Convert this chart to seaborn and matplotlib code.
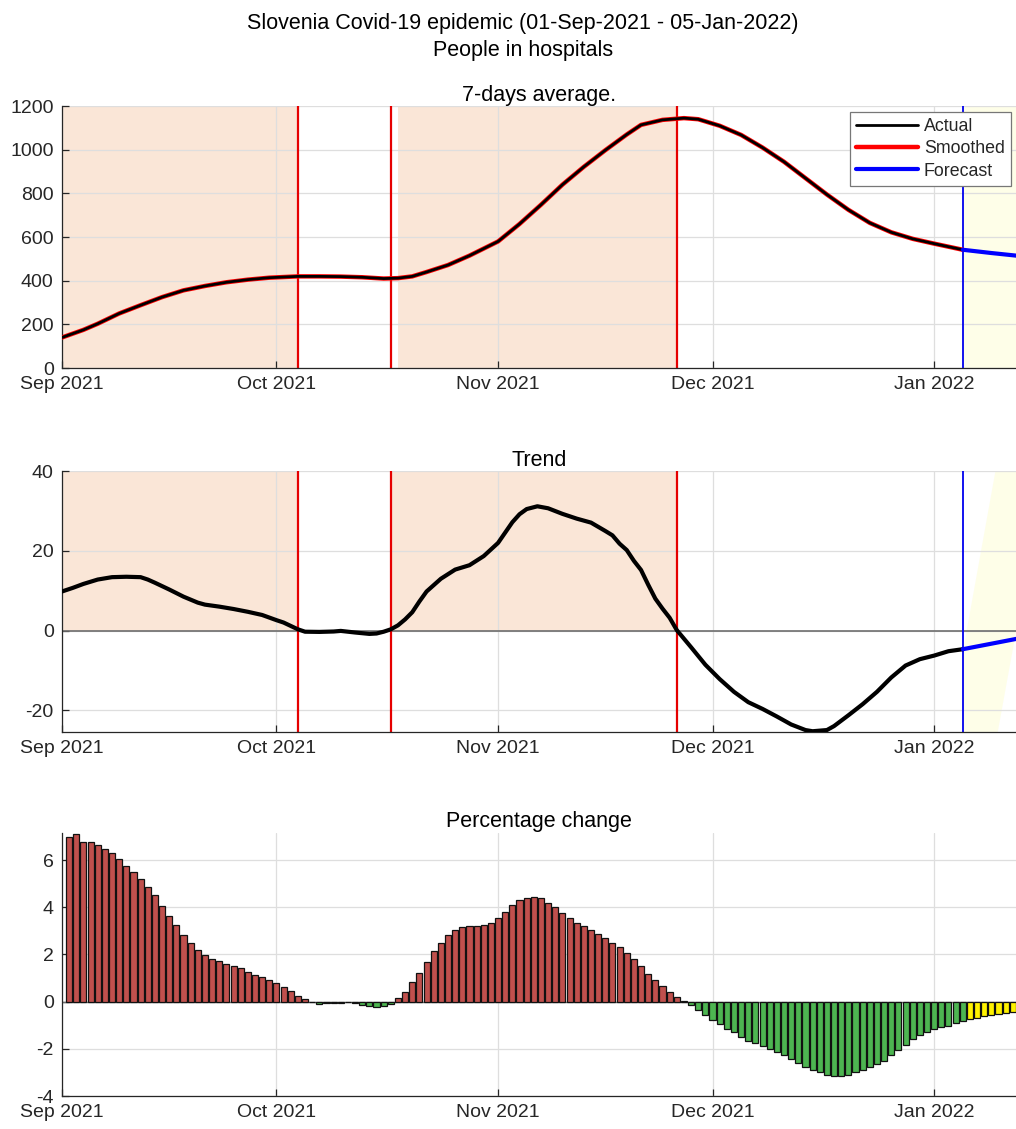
import matplotlib
matplotlib.use("Agg")
import matplotlib.dates as mdates
import matplotlib.pyplot as plt
import numpy as np
import pandas as pd
import seaborn as sns

start = pd.Timestamp("2021-09-01")

# --- data (day offsets counted from 01-Sep-2021) ---
# 7-days average of people in hospitals
hosp_days = [0, 3, 5, 8, 11, 14, 17, 20, 23, 26, 29, 33, 36, 39, 42, 45, 47, 49, 51, 54,
             57, 61, 64, 67, 70, 73, 76, 79, 81, 84, 87, 89, 92, 95, 98, 101, 104, 107,
             110, 113, 116, 119, 122, 126]
hosp_vals = [140, 175, 203, 250, 288, 325, 356, 376, 393, 405, 414, 420, 420, 419, 416,
             410, 412, 420, 440, 472, 515, 580, 660, 748, 840, 922, 998, 1070, 1114, 1137,
             1145, 1140, 1110, 1068, 1010, 945, 870, 795, 725, 665, 622, 592, 570, 542]
hosp_fc_days = [126, 130, 133.5]
hosp_fc_vals = [542, 527, 515]

# trend (daily change)
trend_days = [0, 1.5, 3, 5, 7, 9, 11, 12, 13, 15, 17, 19, 20, 22, 24, 26, 28, 30, 31, 33,
              34, 36, 38, 39, 41, 43, 44, 45, 46, 47, 48, 49, 50, 51, 53, 55, 57, 59, 61,
              62, 63, 64, 65, 66.5, 68, 70, 72, 74, 76, 77, 78, 79, 80, 81, 82, 83, 84, 85,
              86, 88, 90, 92, 94, 96, 98, 100, 102, 104, 105, 107, 108, 110, 112, 114, 116,
              118, 120, 122, 124, 126]
trend_vals = [9.8, 10.7, 11.7, 12.8, 13.4, 13.5, 13.4, 12.8, 12.0, 10.3, 8.5, 7.0, 6.5,
              6.0, 5.4, 4.7, 3.9, 2.6, 2.0, 0.3, -0.3, -0.35, -0.25, -0.1, -0.5, -0.85,
              -0.75, -0.3, 0.3, 1.3, 2.8, 4.6, 7.3, 9.8, 13.0, 15.3, 16.4, 18.7, 22.0, 24.6,
              27.2, 29.2, 30.5, 31.2, 30.7, 29.3, 28.1, 27.1, 25.0, 23.9, 21.8, 20.2, 17.5,
              15.2, 11.5, 8.0, 5.5, 3.2, 0.1, -4.2, -8.6, -12.2, -15.4, -18.0, -19.7, -21.6,
              -23.6, -25.0, -25.3, -25.0, -24.0, -21.3, -18.5, -15.4, -11.8, -8.8, -7.2,
              -6.3, -5.2, -4.7]
trend_fc_days = [126, 133.5]
trend_fc_vals = [-4.7, -2.1]
band_days = [126, 133.5]
band_low = [-73, 1]
band_high = [-4.7, 70]

# percentage change, days 1..126 actual, 127..133 forecast
pct_vals = [7.0, 7.1, 6.78, 6.78, 6.62, 6.47, 6.31, 6.06, 5.77, 5.49, 5.21, 4.87, 4.50,
            4.06, 3.65, 3.23, 2.83, 2.50, 2.21, 1.97, 1.80, 1.72, 1.59, 1.52, 1.43, 1.26,
            1.15, 1.04, 0.91, 0.78, 0.61, 0.44, 0.25, 0.10, -0.03, -0.10, -0.07, -0.07,
            -0.07, -0.03, -0.05, -0.14, -0.17, -0.23, -0.18, -0.11, 0.14, 0.41, 0.82,
            1.23, 1.67, 2.13, 2.48, 2.82, 3.02, 3.15, 3.19, 3.19, 3.23, 3.35, 3.56, 3.80,
            4.09, 4.30, 4.41, 4.45, 4.38, 4.20, 4.01, 3.74, 3.55, 3.35, 3.19, 3.02, 2.87,
            2.70, 2.48, 2.30, 2.06, 1.80, 1.52, 1.19, 0.91, 0.65, 0.40, 0.21, 0.01, -0.15,
            -0.37, -0.57, -0.78, -0.96, -1.15, -1.30, -1.48, -1.66, -1.77, -1.89, -2.00,
            -2.13, -2.28, -2.44, -2.60, -2.75, -2.91, -2.98, -3.11, -3.15, -3.15, -3.11,
            -2.99, -2.91, -2.77, -2.65, -2.50, -2.27, -2.06, -1.82, -1.59, -1.42, -1.28,
            -1.16, -1.09, -1.02, -0.92, -0.84]
pct_fc_vals = [-0.75, -0.70, -0.62, -0.57, -0.52, -0.47, -0.44]

red_lines = [33, 46, 86]
forecast_start = 126
shade_top = [(0, 33), (47, 86)]
shade_mid = [(0, 33), (46, 86)]
x_end = 133.45


def to_date(days):
    return start + pd.to_timedelta(np.asarray(days, dtype=float), unit="D")


sns.set_theme(style="whitegrid")
plt.rcParams["font.family"] = ["Liberation Sans", "DejaVu Sans"]
plt.rcParams["axes.unicode_minus"] = False

peach = "#fae6d7"
pale_yellow = "#fefee8"
txt = "#262626"
title_size = 15.5
tick_size = 14

fig = plt.figure(figsize=(10.16, 11.29), dpi=100)
fig.patch.set_facecolor("white")
ax1 = fig.add_axes([0.061, 0.674, 0.939, 0.232])
ax2 = fig.add_axes([0.061, 0.3516, 0.939, 0.231])
ax3 = fig.add_axes([0.061, 0.0292, 0.939, 0.233])


def style_axis(ax):
    ax.set_facecolor("white")
    ax.set_axisbelow("line")
    ax.grid(True, color="#dedede", linewidth=0.9)
    for side in ["top", "right"]:
        ax.spines[side].set_visible(False)
    for side in ["left", "bottom"]:
        ax.spines[side].set_visible(True)
        ax.spines[side].set_color(txt)
        ax.spines[side].set_linewidth(0.9)
    ax.set_xlim(to_date(0), to_date(x_end))
    ax.xaxis.set_major_locator(mdates.MonthLocator())
    ax.xaxis.set_major_formatter(mdates.DateFormatter("%b %Y"))
    ax.tick_params(axis="both", direction="in", length=5, width=0.9, color=txt,
                   labelcolor=txt, labelsize=tick_size, pad=6)
    ax.xaxis.set_ticks_position("bottom")
    ax.yaxis.set_ticks_position("left")
    ax.set_xlabel("")
    ax.set_ylabel("")


# ---- 7-days average ----
for a, b in shade_top:
    ax1.axvspan(to_date(a), to_date(b), color=peach, lw=0, zorder=0.5)
ax1.axvspan(to_date(forecast_start), to_date(x_end + 1), color=pale_yellow, lw=0, zorder=0.5)
df_h = pd.DataFrame({"date": to_date(hosp_days), "value": hosp_vals})
df_hf = pd.DataFrame({"date": to_date(hosp_fc_days), "value": hosp_fc_vals})
sns.lineplot(data=df_h, x="date", y="value", ax=ax1, color="black", lw=2, label="Actual", zorder=4)
sns.lineplot(data=df_h, x="date", y="value", ax=ax1, color="red", lw=3.2, label="Smoothed", zorder=3)
sns.lineplot(data=df_hf, x="date", y="value", ax=ax1, color="blue", lw=3, label="Forecast", zorder=4)
for d in red_lines:
    ax1.axvline(to_date(d), color="#e60000", lw=1.6, zorder=2.5)
ax1.axvline(to_date(forecast_start), color="#0000ee", lw=1.3, zorder=2.5)
style_axis(ax1)
ax1.set_ylim(0, 1200)
ax1.set_yticks(range(0, 1201, 200))
ax1.set_title("7-days average.", fontsize=title_size, pad=4, color="black")
handles, labels = ax1.get_legend_handles_labels()
order = [labels.index(n) for n in ["Actual", "Smoothed", "Forecast"]]
leg = ax1.legend([handles[i] for i in order], [labels[i] for i in order],
                 loc="upper right", bbox_to_anchor=(0.995, 0.901),
                 bbox_transform=fig.transFigure, borderaxespad=0, fontsize=12.8,
                 handlelength=3.5, labelspacing=0.3, borderpad=0.35, handletextpad=0.3,
                 fancybox=False, framealpha=1, edgecolor="#777777")
leg.get_frame().set_linewidth(0.9)
leg.set_zorder(10)

# ---- Trend ----
for a, b in shade_mid:
    ax2.fill_between(to_date([a, b]), [0, 0], [40, 40], color=peach, lw=0, zorder=0.5)
ax2.fill_between(to_date(band_days), band_low, band_high, color=pale_yellow, lw=0, zorder=0.6)
ax2.axhline(0, color="#6e6e6e", lw=1.2, zorder=2)
df_t = pd.DataFrame({"date": to_date(trend_days), "value": trend_vals})
df_tf = pd.DataFrame({"date": to_date(trend_fc_days), "value": trend_fc_vals})
sns.lineplot(data=df_t, x="date", y="value", ax=ax2, color="black", lw=3, zorder=4)
sns.lineplot(data=df_tf, x="date", y="value", ax=ax2, color="blue", lw=3, zorder=4)
for d in red_lines:
    ax2.axvline(to_date(d), color="#e60000", lw=1.6, zorder=2.5)
ax2.axvline(to_date(forecast_start), color="#0000ee", lw=1.3, zorder=2.5)
style_axis(ax2)
ax2.set_ylim(-25.5, 40)
ax2.set_yticks([-20, 0, 20, 40])
ax2.set_title("Trend", fontsize=title_size, pad=4, color="black")

# ---- Percentage change ----
pct_days = np.arange(1, len(pct_vals) + 1)
pct_fc_days = np.arange(len(pct_vals) + 1, len(pct_vals) + 1 + len(pct_fc_vals))
bar_colors = ["#c0504d" if v >= 0 else "#4db551" for v in pct_vals]
ax3.bar(to_date(pct_days), pct_vals, width=0.85, color=bar_colors, edgecolor="#111111",
        linewidth=0.9, zorder=2)
ax3.bar(to_date(pct_fc_days), pct_fc_vals, width=0.85, color="#fff200", edgecolor="#111111",
        linewidth=0.9, zorder=2)
ax3.axhline(0, color="#6e6e6e", lw=1.0, zorder=1.8)
style_axis(ax3)
ax3.set_ylim(-4, 7.15)
ax3.set_yticks([-4, -2, 0, 2, 4, 6])
ax3.set_title("Percentage change", fontsize=title_size, pad=4, color="black")

fig.text(0.515, 0.979, "Slovenia Covid-19 epidemic (01-Sep-2021 - 05-Jan-2022)",
         ha="center", va="center", fontsize=title_size, color="black")
fig.text(0.515, 0.955, "People in hospitals", ha="center", va="center", fontsize=title_size,
         color="black")

fig.savefig("out.png", dpi=100, facecolor="white")
